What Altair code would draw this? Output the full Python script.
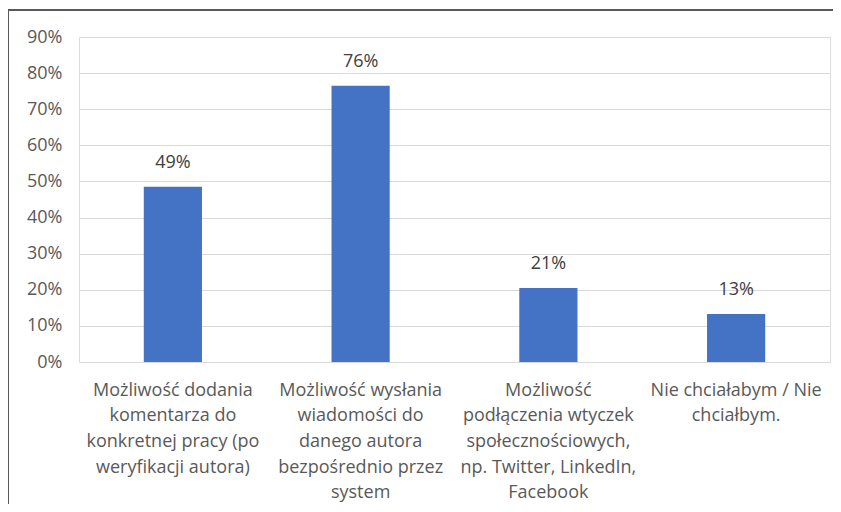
import altair as alt
import pandas as pd

categories = [
    "Możliwość dodania\nkomentarza do\nkonkretnej pracy (po\nweryfikacji autora)",
    "Możliwość wysłania\nwiadomości do\ndanego autora\nbezpośrednio przez\nsystem",
    "Możliwość\npodłączenia wtyczek\nspołecznościowych,\nnp. Twitter, LinkedIn,\nFacebook",
    "Nie chciałabym / Nie\nchciałbym.",
]
values = [0.485, 0.765, 0.205, 0.133]
labels = ["49%", "76%", "21%", "13%"]
ticks = [0.0, 0.1, 0.2, 0.3, 0.4, 0.5, 0.6, 0.7, 0.8, 0.9]

df = pd.DataFrame({"cat": categories, "val": values, "lab": labels})

FONT = "Open Sans"
FS = 18
W, H = 751, 325

x_axis = alt.Axis(
    labelAngle=0,
    labelExpr="split(datum.label, '\\n')",
    labelFont=FONT,
    labelFontSize=FS,
    labelColor="#595959",
    labelLineHeight=25.7,
    labelPadding=19,
    labelBaseline="top",
    ticks=False,
    domain=False,
    grid=False,
    labelLimit=300,
    labelOverlap=False,
)
y_axis = alt.Axis(
    format=".0%",
    values=ticks,
    labelFont=FONT,
    labelFontSize=FS,
    labelColor="#595959",
    labelPadding=17,
    labelOverlap=False,
    ticks=False,
    domain=False,
    gridColor="#d9d9d9",
    gridWidth=1.2,
)
x = alt.X(
    "cat:N",
    sort=categories,
    title=None,
    scale=alt.Scale(paddingInner=0.69, paddingOuter=0.345),
    axis=x_axis,
)
y = alt.Y(
    "val:Q",
    title=None,
    scale=alt.Scale(domain=[0, 0.9], nice=False),
    axis=y_axis,
)

bars = alt.Chart(df).mark_bar(color="#4472C4").encode(x=x, y=y)
text = alt.Chart(df).mark_text(
    baseline="bottom", dy=-15, font=FONT, fontSize=FS, color="#404040"
).encode(x=x, y=y, text="lab:N")

top_line = alt.Chart(df).mark_rule(
    stroke="#595959", strokeWidth=1.5, clip=False
).encode(x=alt.value(-71), x2=alt.value(W + 100), y=alt.value(-27))
left_line = alt.Chart(df).mark_rule(
    stroke="#595959", strokeWidth=1.5, clip=False
).encode(x=alt.value(-71), y=alt.value(-27), y2=alt.value(H + 200))

chart = (
    alt.layer(top_line, left_line, bars, text)
    .properties(
        width=W,
        height=H,
        autosize=alt.AutoSizeParams(type="none"),
        padding={"left": 71, "top": 29, "right": 3, "bottom": 142},
    )
    .configure_view(stroke=None, strokeWidth=0)
    .configure(background="white")
)

chart.save("out.html", embed_options={"renderer": "svg", "actions": False})
